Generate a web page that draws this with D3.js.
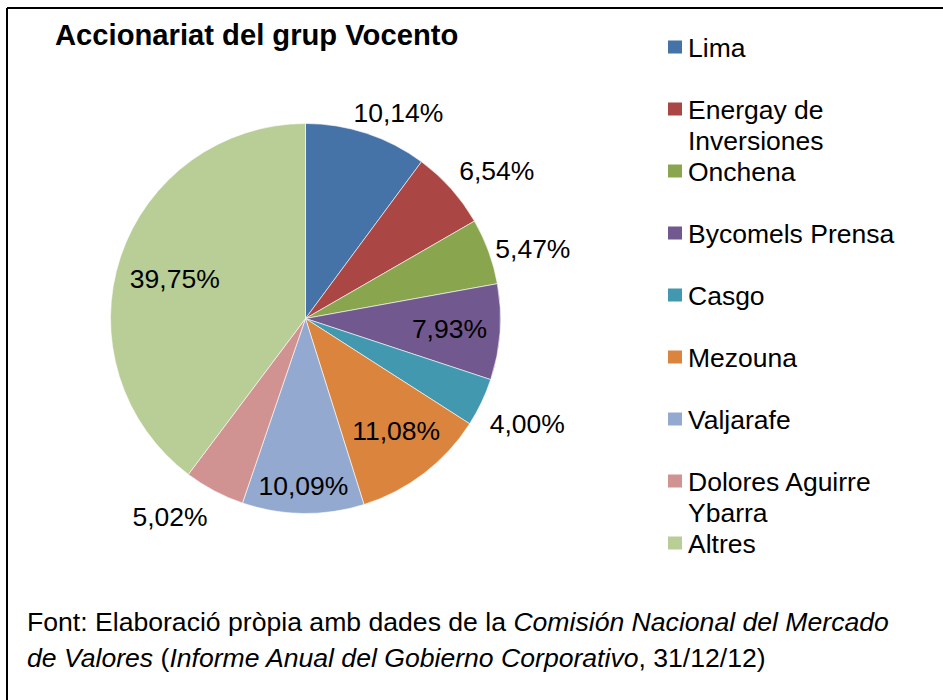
<!DOCTYPE html>
<html>
<head>
<meta charset="utf-8">
<script src="https://cdn.jsdelivr.net/npm/d3@7"></script>
<style>
  body { margin: 0; background: #fff; }
  svg { font-family: "Liberation Sans", Arial, sans-serif; }
</style>
</head>
<body>
<div id="container"></div>
<script>
// data
const names = ["Lima", "Energay de Inversiones", "Onchena", "Bycomels Prensa", "Casgo",
               "Mezouna", "Valjarafe", "Dolores Aguirre Ybarra", "Altres"];
const shares = [10.14, 6.54, 5.47, 7.93, 4.00, 11.08, 10.09, 5.02, 39.75];
const colors = ["#4572A7", "#AA4643", "#89A54E", "#71588F", "#4198AF",
                "#DB843D", "#93A9CF", "#D19392", "#B9CD96"];
// legend text wrapped like the original
const legendLines = [["Lima"], ["Energay de", "Inversiones"], ["Onchena"], ["Bycomels Prensa"], ["Casgo"],
                     ["Mezouna"], ["Valjarafe"], ["Dolores Aguirre", "Ybarra"], ["Altres"]];

// label placement (best fit): radius factor and small angle nudge in degrees
const labelRadius = [1.16, 1.24, 1.22, 0.74, 1.26, 0.74, 0.86, 1.23, 0.70];
const labelNudge = [6, 4, 3, 0, 0, -1.5, 0, 6.5, -1.7];

const width = 943, height = 700;
const cx = 305.5, cy = 318.5, r = 195;

const svg = d3.select("#container").append("svg")
    .attr("width", width)
    .attr("height", height);

// frame (top and left edges visible)
svg.append("line").attr("x1", 7).attr("y1", 8).attr("x2", width).attr("y2", 8)
    .attr("stroke", "#000").attr("stroke-width", 2);
svg.append("line").attr("x1", 7).attr("y1", 8).attr("x2", 7).attr("y2", height)
    .attr("stroke", "#000").attr("stroke-width", 2);

svg.append("text")
    .attr("x", 55).attr("y", 45)
    .attr("font-size", 29.2).attr("font-weight", "bold")
    .text("Accionariat del grup Vocento");

const pie = d3.pie().sort(null).value(d => d)(shares);
const arc = d3.arc().innerRadius(0).outerRadius(r);

const g = svg.append("g").attr("transform", `translate(${cx},${cy})`);

g.selectAll("path").data(pie).enter().append("path")
    .attr("d", arc)
    .attr("fill", (d, i) => colors[i])
    .attr("stroke", "#fff")
    .attr("stroke-width", 0.6);

const fmt = v => v.toFixed(2).replace(".", ",") + "%";

g.selectAll("text.lbl").data(pie).enter().append("text")
    .attr("class", "lbl")
    .attr("transform", (d, i) => {
        const rr = labelRadius[i] * r;
        const a = (d.startAngle + d.endAngle) / 2 + labelNudge[i] * Math.PI / 180;
        return `translate(${Math.sin(a) * rr},${-Math.cos(a) * rr})`;
    })
    .attr("text-anchor", "middle")
    .attr("dy", "0.35em")
    .attr("font-size", 26.5)
    .text(d => fmt(d.data));

// legend
const legend = svg.append("g").attr("transform", "translate(668,47)");
const item = legend.selectAll("g").data(names).enter().append("g")
    .attr("transform", (d, i) => `translate(0,${i * 62})`);

item.append("rect")
    .attr("x", 0).attr("y", -6.5)
    .attr("width", 14).attr("height", 13)
    .attr("fill", (d, i) => colors[i]);

item.append("text")
    .attr("font-size", 26.5)
    .attr("y", 9.5)
    .selectAll("tspan").data((d, i) => legendLines[i]).enter().append("tspan")
    .attr("x", 20)
    .attr("dy", (d, j) => j === 0 ? 0 : 31)
    .text(d => d);

// source note
const note = [
    [["Font: Elaboració pròpia amb dades de la ", false], ["Comisión Nacional del Mercado", true]],
    [["de Valores", true], [" (", false], ["Informe Anual del Gobierno Corporativo", true], [", 31/12/12)", false]]
];
note.forEach((line, k) => {
    const t = svg.append("text")
        .attr("x", 27).attr("y", 631 + k * 36)
        .attr("font-size", 26.6);
    t.selectAll("tspan").data(line).enter().append("tspan")
        .attr("font-style", d => d[1] ? "italic" : "normal")
        .text(d => d[0]);
});
</script>
</body>
</html>
